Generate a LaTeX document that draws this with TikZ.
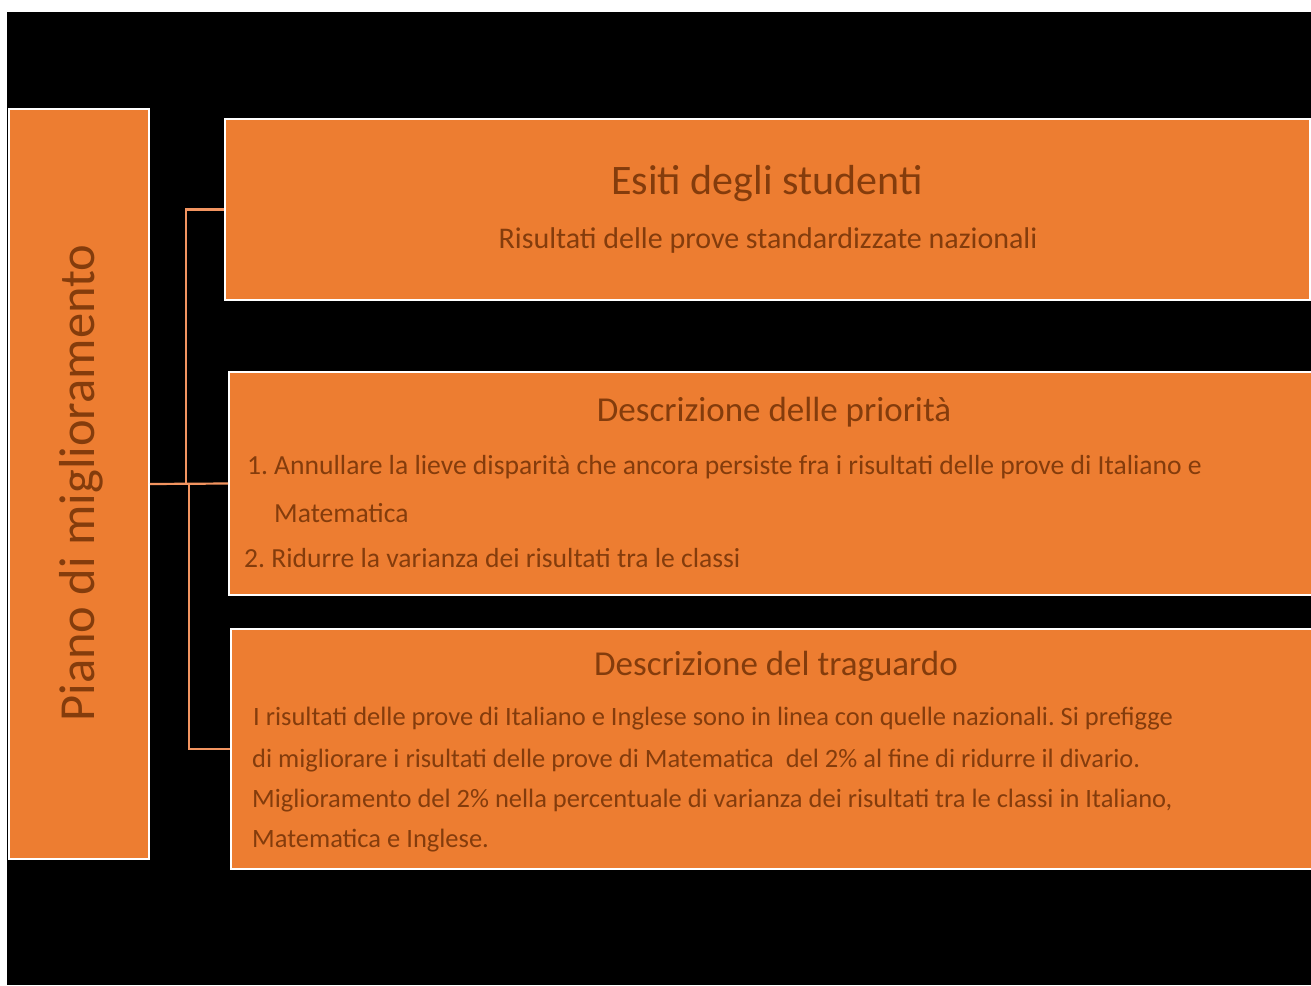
\documentclass[tikz,border=0pt]{standalone}
\usepackage{fontspec}
\setmainfont{Carlito}
\frenchspacing
\definecolor{boxfill}{HTML}{ED7D31}
\definecolor{txt}{HTML}{843C0C}
\definecolor{conn}{HTML}{F29460}
\tikzset{
  obox/.style={fill=boxfill, draw=white, line width=2pt, anchor=north west, inner sep=0pt},
  connline/.style={draw=conn, line width=2.2pt},
  ttl/.style={text=txt, font=\fontsize{42}{50}\selectfont, anchor=base, inner sep=0pt},
  sub/.style={text=txt, font=\fontsize{35}{42}\selectfont, anchor=base, inner sep=0pt},
  body/.style={text=txt, font=\fontsize{27.6}{33}\selectfont, anchor=base west, inner sep=0pt},
  bodyb/.style={text=txt, font=\fontsize{26.5}{32}\selectfont, anchor=base west, inner sep=0pt},
}
\begin{document}
\begin{tikzpicture}[x=1pt, y=-1pt]
\useasboundingbox (0,0) rectangle (1311,985);
\fill[white] (0,0) rectangle (1311,985);
\fill[black] (7,12) rectangle (1311,985);
\begin{scope}
\clip (7,12) rectangle (1311,985);
% boxes
\node[obox, minimum width=140pt, minimum height=750pt] (left) at (8,108) {};
\node[obox, minimum width=1085pt, minimum height=181pt] (b1) at (224,118) {};
\node[obox, minimum width=1090pt, minimum height=223pt] (b2) at (228,371) {};
\node[obox, minimum width=1090pt, minimum height=240pt] (b3) at (230,628) {};
\end{scope}
% connectors
\coordinate (ja) at (186,483);
\coordinate (jb) at (189,483);
\draw[connline] (left.east) -- (b2.west);
\draw[connline] (ja) |- (b1.west);
\draw[connline] (jb) |- (b3.west);
% left text
\node[text=txt, font=\fontsize{50.5}{60}\selectfont, rotate=90, anchor=base, inner sep=0pt] (ltxt) at (94,483) {Piano di miglioramento};
% box 1
\node[ttl] (t1) at (767,194) {Esiti degli studenti};
\node[text=txt, font=\fontsize{30}{36}\selectfont, anchor=base, inner sep=0pt] (s1) at (768,248) {Risultati delle prove standardizzate nazionali};
% box 2
\node[sub] (t2) at (774,421) {Descrizione delle priorità};
\node[body] (p1) at (247,474) {1.};
\node[body] (p1a) at (274,474) {Annullare la lieve disparità che ancora persiste fra i risultati delle prove di Italiano e};
\node[body] (p1b) at (274,522) {Matematica};
\node[body] (p2) at (244,567) {2. Ridurre la varianza dei risultati tra le classi};
% box 3
\node[sub] (t3) at (776,675) {Descrizione del traguardo};
\node[bodyb] (q1) at (253,725) {I risultati delle prove di Italiano e Inglese sono in linea con quelle nazionali. Si prefigge};
\node[bodyb] (q2) at (252,767) {di migliorare i risultati delle prove di Matematica\ \ del 2\% al fine di ridurre il divario.};
\node[bodyb] (q3) at (252,807) {Miglioramento del 2\% nella percentuale di varianza dei risultati tra le classi in Italiano,};
\node[bodyb] (q4) at (252,847) {Matematica e Inglese.};
\end{tikzpicture}
\end{document}
